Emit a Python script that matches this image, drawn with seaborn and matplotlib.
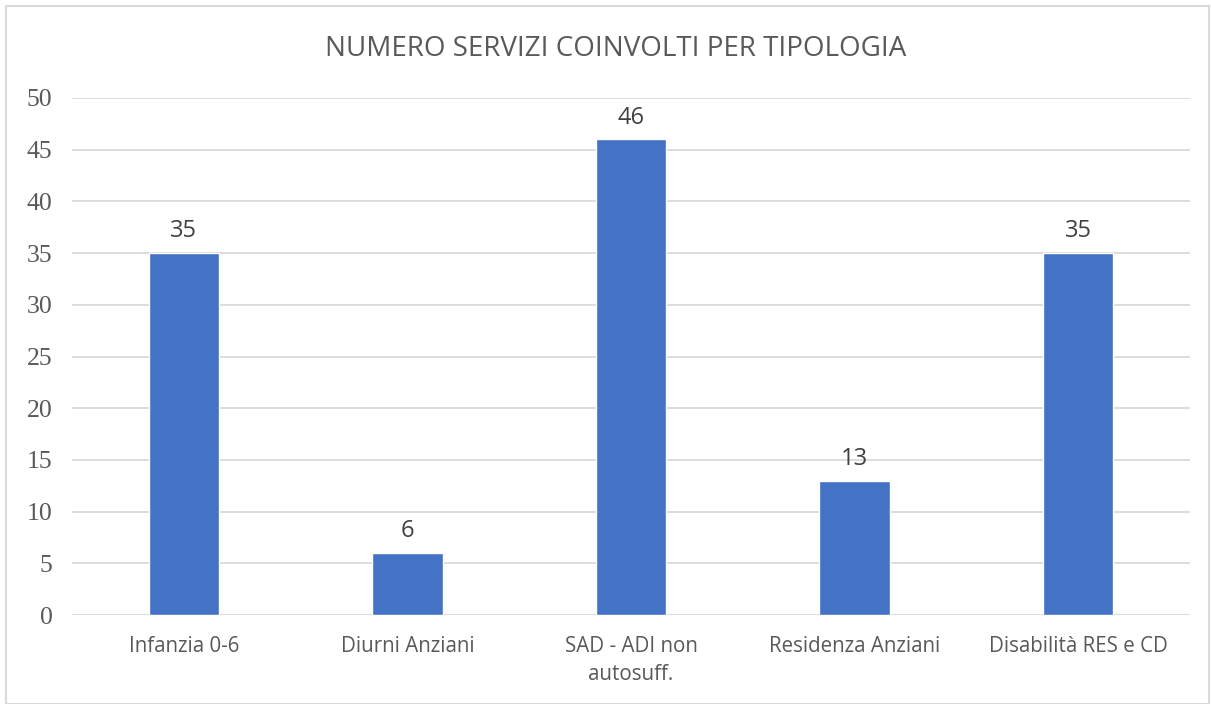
import matplotlib
matplotlib.use("Agg")
import matplotlib.pyplot as plt
import seaborn as sns
import pandas as pd
from matplotlib.patches import Rectangle

categories = ["Infanzia 0-6", "Diurni Anziani", "SAD - ADI non\nautosuff.", "Residenza Anziani", "Disabilità RES e CD"]
values = [35, 6, 46, 13, 35]
yticks = [0, 5, 10, 15, 20, 25, 30, 35, 40, 45, 50]
title = "NUMERO SERVIZI COINVOLTI PER TIPOLOGIA"

sns.set_theme(style="white")
plt.rcParams['font.family'] = ['Open Sans', 'DejaVu Sans']

df = pd.DataFrame({"cat": categories, "val": values})

fig = plt.figure(figsize=(12.11, 7.04), dpi=100)
ax = fig.add_axes([0.0595, 0.1264, 0.9231, 0.7344])
sns.barplot(data=df, x="cat", y="val", color="#4472C4", width=0.315, saturation=1, ax=ax, zorder=3)

ax.set_ylim(0, 50)
ax.set_xlim(-0.5, len(categories) - 0.5)
ax.set_yticks(yticks)
ax.set_yticklabels([str(t) for t in yticks], family=['Liberation Serif'], fontsize=18.5, color="#595959")
ax.yaxis.grid(True, color="#D9D9D9", linewidth=1.3, zorder=0)
ax.xaxis.grid(False)
ax.set_axisbelow(True)
for s in ax.spines.values():
    s.set_visible(False)
ax.tick_params(axis='both', length=0)
ax.tick_params(axis='y', pad=14)
ax.tick_params(axis='x', pad=15)
for lab in ax.get_xticklabels():
    lab.set_fontsize(14.8)
    lab.set_color("#595959")
    lab.set_linespacing(1.45)
ax.set_xlabel("")
ax.set_ylabel("")

for c in ax.containers:
    ax.bar_label(c, labels=[str(v) for v in values], padding=7, fontsize=17, color="#404040")

fig.text(0.508, 0.931, title, ha="center", va="center", fontsize=20, color="#595959")
fig.patches.append(Rectangle((6/1211, 0), 1 - 8/1211, 1 - 6/704, transform=fig.transFigure,
                             fill=False, edgecolor="#D9D9D9", linewidth=1.5))

fig.savefig("out.png", dpi=100)
